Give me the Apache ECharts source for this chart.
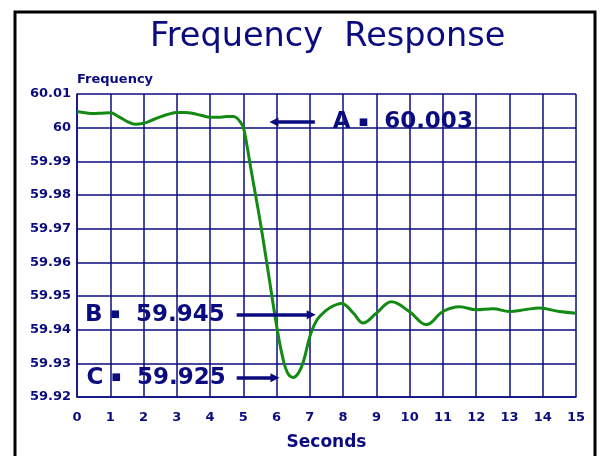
<!DOCTYPE html>
<html>
<head>
<meta charset="utf-8">
<title>Frequency Response</title>
<script src="https://cdn.jsdelivr.net/npm/echarts@6/dist/echarts.min.js"></script>
<style>
    html, body { margin: 0; padding: 0; background: #fff; }
    #chart { width: 604px; height: 456px; }
</style>
</head>
<body>
<div id="chart"></div>
<script>
// time (s) and grid frequency (Hz)
var tSec = [0, 0.25, 0.5, 0.75, 1, 1.25, 1.5, 1.75, 2, 2.25, 2.5, 2.75, 3, 3.25, 3.5, 3.75, 4, 4.25, 4.5, 4.7, 4.8, 4.9, 5,
    5.1, 5.25, 5.5, 5.75, 6, 6.2, 6.35, 6.5, 6.65, 6.8, 7, 7.15, 7.3, 7.6,
    7.95, 8.3, 8.6, 9, 9.45, 10, 10.5, 11, 11.5, 12, 12.5, 13, 13.5, 13.9, 14.5, 15];
var freqHz = [60.0048, 60.0044, 60.0042, 60.0043, 60.0044, 60.0033, 60.0019, 60.0010, 60.0013, 60.0022, 60.0032, 60.0040, 60.0045, 60.0045, 60.0042, 60.0036, 60.0031, 60.0031, 60.0033, 60.0033, 60.0029, 60.0018, 60.0001,
    59.9952, 59.9865, 59.9725, 59.9570, 59.9412, 59.9310, 59.9268, 59.9258, 59.9270, 59.9303, 59.9380, 59.9418, 59.9440, 59.9465,
    59.9478, 59.9450, 59.9420, 59.9449, 59.9483, 59.9453, 59.9415, 59.9454, 59.9468, 59.9459, 59.9462, 59.9454, 59.9460, 59.9464, 59.9454, 59.9449];
var xTicks = ['0', '1', '2', '3', '4', '5', '6', '7', '8', '9', '10', '11', '12', '13', '14', '15'];
var yTicks = ['59.92', '59.93', '59.94', '59.95', '59.96', '59.97', '59.98', '59.99', '60', '60.01'];
var noteNames = ['A', 'B', 'C'];
var noteValues = ['60.003', '59.945', '59.925'];

var navy = '#0b0b80';
var green = '#138a13';
var yMin = 59.92, yStep = 0.01;

var seriesData = [];
for (var i = 0; i < tSec.length; i++) {
    seriesData.push([tSec[i], freqHz[i]]);
}

function noteText(i) {
    return noteNames[i] + ' {sq|\u25A0}  ' + noteValues[i];
}

function noteLabel(i, dist) {
    return {
        show: true,
        position: 'start',
        distance: dist,
        formatter: noteText(i),
        fontFamily: 'DejaVu Sans',
        fontWeight: 'bold',
        fontSize: 23,
        color: navy,
        rich: {
            sq: { fontFamily: 'DejaVu Sans', fontSize: 10, color: navy, verticalAlign: 'middle' }
        }
    };
}

var chart = echarts.init(document.getElementById('chart'));
var option = {
    animation: false,
    backgroundColor: '#fff',
    title: {
        text: 'Frequency  Response',
        left: 145,
        top: 15,
        textStyle: {
            fontFamily: 'DejaVu Sans',
            fontSize: 33.5,
            fontWeight: 'normal',
            color: navy
        }
    },
    graphic: [{
        type: 'rect',
        silent: true,
        shape: { x: 15, y: 12, width: 580, height: 470 },
        style: { fill: 'none', stroke: '#000', lineWidth: 3 }
    }],
    grid: { left: 77, right: 28, top: 94, bottom: 54, show: false },
    xAxis: {
        type: 'value',
        min: 0,
        max: 15,
        interval: 1,
        name: 'Seconds',
        nameLocation: 'middle',
        nameGap: 37,
        nameTextStyle: { fontFamily: 'DejaVu Sans', fontWeight: 'bold', fontSize: 17, color: navy },
        axisLine: { lineStyle: { color: navy, width: 1.5 } },
        axisTick: { show: false },
        axisLabel: {
            margin: 14,
            fontFamily: 'DejaVu Sans', fontWeight: 'bold', fontSize: 13, color: navy,
            formatter: function (v) { return xTicks[Math.round(v)]; }
        },
        splitLine: { show: true, lineStyle: { color: navy, width: 1.5 } }
    },
    yAxis: {
        type: 'value',
        min: yMin,
        max: 60.01,
        interval: yStep,
        name: 'Frequency',
        nameLocation: 'end',
        nameGap: 8,
        nameTextStyle: { fontFamily: 'DejaVu Sans', fontWeight: 'bold', fontSize: 13, color: navy, align: 'left' },
        axisLine: { show: true, lineStyle: { color: navy, width: 1.5 } },
        axisTick: { show: false },
        axisLabel: {
            margin: 6,
            fontFamily: 'DejaVu Sans', fontWeight: 'bold', fontSize: 13, color: navy,
            formatter: function (v) { return yTicks[Math.round((v - yMin) / yStep)]; }
        },
        splitLine: { show: true, lineStyle: { color: navy, width: 1.5 } }
    },
    series: [{
        type: 'line',
        data: seriesData,
        smooth: 0.4,
        showSymbol: false,
        lineStyle: { color: green, width: 3 },
        z: 3,
        markLine: {
            silent: true,
            symbol: ['none', 'triangle'],
            symbolSize: 9,
            lineStyle: { color: navy, width: 3.5, type: 'solid' },
            data: [
                [{ coord: [7.15, 60.0017], label: noteLabel(0, 18) }, { coord: [5.92, 60.0017] }],
                [{ coord: [4.8, 59.9444], label: noteLabel(1, 12) }, { coord: [7.04, 59.9444] }],
                [{ coord: [4.8, 59.9257], label: noteLabel(2, 11) }, { coord: [5.95, 59.9257] }]
            ]
        }
    }]
};
chart.setOption(option);
</script>
</body>
</html>
